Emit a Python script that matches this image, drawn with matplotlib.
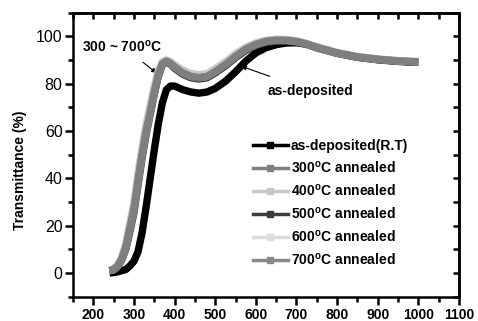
import numpy as np
import matplotlib.pyplot as plt

plt.rcParams['font.family'] = ['Liberation Sans', 'DejaVu Sans']
plt.rcParams['mathtext.fontset'] = 'custom'
plt.rcParams['mathtext.rm'] = 'Liberation Sans'
plt.rcParams['mathtext.bf'] = 'Liberation Sans:bold'

# wavelength (nm)
wl = [240, 250, 260, 270, 280, 290, 300, 310, 320, 330, 340, 350, 360, 370,
      380, 390, 400, 420, 440, 460, 480, 500, 525, 550, 575, 600, 625, 650,
      675, 700, 725, 750, 800, 850, 900, 950, 1000]

t_rt = [0, 0.2, 0.5, 1, 1.5, 3, 5, 9, 17, 28, 40, 52, 63, 72,
        77.5, 79, 79, 77.5, 76.5, 76, 76.5, 78, 81, 85, 89.5, 93, 95.2, 96.5,
        97.2, 97.3, 96.7, 95.5, 93, 91.3, 90.2, 89.5, 89]
t_300 = [1, 1.5, 3, 6, 11, 19, 27, 39, 50, 60, 68, 76.5, 84, 88.5,
         89.5, 88.5, 87, 84.5, 83, 82.5, 83, 85, 88, 91.5, 94.5, 96.5, 97.8, 98.3,
         98.3, 97.8, 96.8, 95.3, 93, 91.3, 90.3, 89.6, 89.2]
t_400 = [1.2, 1.8, 3.5, 7, 12.5, 21, 30, 42, 53, 63, 71, 79, 85.5, 89.3,
         90, 89.3, 88, 85.8, 84.3, 83.8, 84.3, 86.3, 89.3, 92.6, 95.4, 97.2, 98.4, 98.8,
         98.7, 98.1, 97, 95.5, 93.2, 91.5, 90.5, 89.8, 89.4]
t_500 = [0.8, 1.2, 2.6, 5.5, 10, 17.5, 25.5, 37, 48.5, 58.5, 67, 75.5, 83, 88,
         89.2, 88.2, 86.5, 84, 82.5, 82, 82.5, 84.5, 87.5, 91, 94, 96.2, 97.5, 98,
         98, 97.6, 96.6, 95.1, 92.8, 91.1, 90.1, 89.4, 89]
t_600 = [1.1, 1.7, 3.3, 6.6, 12, 20.5, 29, 41, 52, 62, 70, 78, 85, 89,
         89.8, 89, 87.6, 85.3, 83.8, 83.3, 83.8, 85.8, 88.8, 92.2, 95, 97, 98.2, 98.6,
         98.5, 98, 96.9, 95.4, 93.1, 91.4, 90.4, 89.7, 89.3]
t_700 = [0.9, 1.4, 2.8, 5.8, 10.5, 18.5, 26.5, 38, 49.5, 59.5, 67.5, 76, 83.5, 88.3,
         89.5, 88.6, 87.1, 84.6, 83.1, 82.6, 83.1, 85.1, 88.1, 91.6, 94.6, 96.6, 97.9, 98.4,
         98.3, 97.8, 96.8, 95.3, 93, 91.3, 90.3, 89.6, 89.2]

labels = ['as-deposited(R.T)', r'300$^\mathbf{o}$C annealed', r'400$^\mathbf{o}$C annealed',
          r'500$^\mathbf{o}$C annealed', r'600$^\mathbf{o}$C annealed', r'700$^\mathbf{o}$C annealed']
series = [t_rt, t_300, t_400, t_500, t_600, t_700]
colors = ['#000000', '#7f7f7f', '#c8c8c8', '#3c3c3c', '#dcdcdc', '#8a8a8a']
order = [0, 3, 4, 2, 5, 1]

fig = plt.figure(figsize=(4.78, 3.21), dpi=100)
ax = fig.add_axes([0.1527, 0.0757, 0.8076, 0.8847])

for i in order:
    ax.plot(wl, series[i], color=colors[i], lw=5.3, solid_capstyle='butt',
            solid_joinstyle='round', zorder=2 + order.index(i))

# legend handles
handles = []
for i in range(6):
    h, = ax.plot([], [], color=colors[i], lw=2.5, marker='s', ms=5,
                 markeredgecolor=colors[i])
    handles.append(h)
leg = ax.legend(handles, labels, loc='upper left', bbox_to_anchor=(0.466, 0.557),
                frameon=False, borderpad=0, borderaxespad=0,
                handlelength=2.5, handletextpad=0.25, labelspacing=0.51,
                prop={'weight': 'bold', 'size': 10})

ax.annotate(r'300 ~ 700$^\mathbf{o}$C', xy=(356, 84.5), xytext=(272, 95.8),
            ha='center', va='center', fontsize=10, fontweight='bold',
            arrowprops=dict(arrowstyle='-|>', color='black', lw=0.8,
                            mutation_scale=7, shrinkA=6, shrinkB=0))
ax.annotate('as-deposited', xy=(564, 87.4), xytext=(734, 77),
            ha='center', va='center', fontsize=10, fontweight='bold',
            arrowprops=dict(arrowstyle='-|>', color='black', lw=0.8,
                            mutation_scale=7, shrinkA=10, shrinkB=0))

ax.set_xlim(150, 1100)
ax.set_ylim(-10, 110)
ax.set_xticks(np.arange(200, 1101, 100))
ax.set_xticks(np.arange(150, 1101, 100), minor=True)
ax.set_yticks(np.arange(0, 101, 20))
ax.set_yticks(np.arange(-10, 111, 10), minor=True)
ax.set_ylabel('Transmittance (%)', fontsize=10, fontweight='bold')
ax.yaxis.set_label_coords(-0.118, 0.446)

for s in ax.spines.values():
    s.set_linewidth(1.8)
ax.tick_params(axis='both', which='major', direction='out', length=6, width=1.8,
               labelsize=10, pad=2)
ax.tick_params(axis='y', which='major', labelsize=11.5, pad=1.5)
ax.tick_params(axis='both', which='minor', direction='out', length=3.5, width=1.8)
for lab in ax.get_xticklabels():
    lab.set_fontweight('bold')

# mirror ticks on top/right pointing inward
top = ax.secondary_xaxis('top')
top.set_xticks(np.arange(200, 1101, 100))
top.set_xticks(np.arange(150, 1101, 100), minor=True)
top.tick_params(which='both', direction='in', length=4, width=1.8, labeltop=False)
right = ax.secondary_yaxis('right')
right.set_yticks(np.arange(0, 101, 20))
right.set_yticks(np.arange(-10, 111, 10), minor=True)
right.tick_params(which='both', direction='in', length=4, width=1.8, labelright=False)
for sec in (top, right):
    for s in sec.spines.values():
        s.set_linewidth(1.8)

fig.savefig('out.png', dpi=100)
